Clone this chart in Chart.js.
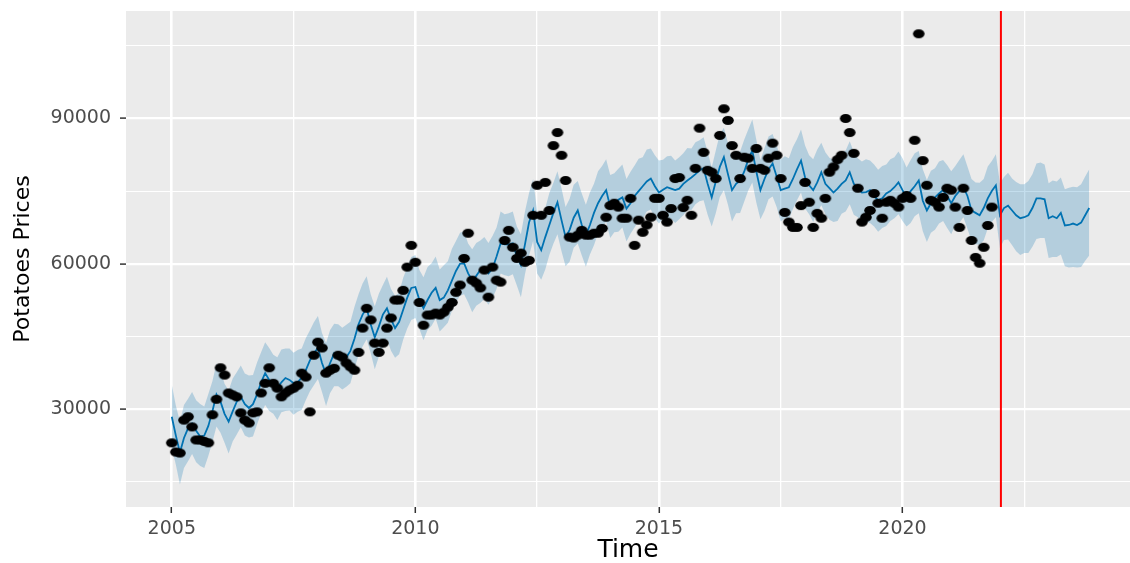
<!DOCTYPE html>
<html>
<head>
<meta charset="utf-8">
<script src="https://cdn.jsdelivr.net/npm/chart.js@4/dist/chart.umd.min.js"></script>
<style>
  html, body { margin: 0; padding: 0; background: #ffffff; }
  #wrap { width: 1130px; height: 563px; }
</style>
</head>
<body>
<div id="wrap"><canvas id="forecastChart" width="1130" height="563"></canvas></div>
<script>
// monthly series, first point = Jan 2005
const startYear = 2005;
const cutoffYear = 2022.02;

const xMajor = [2005, 2010, 2015, 2020];
const xMinor = [2007.5, 2012.5, 2017.5, 2022.5];
const yMajor = [30000, 60000, 90000];
const yMinor = [15000, 45000, 75000, 105000];

// observed prices (Jan 2005 - Nov 2021)
const observed = [
    23000, 21100, 20900, 27700, 28400, 26300, 23600, 23600, 23300, 23000, 28800, 32000,
    38500, 37000, 33300, 32900, 32500, 29200, 27700, 27100, 29200, 29400, 33300, 35300,
    38500, 35300, 34300, 32500, 33300, 33900, 34300, 34900, 37400, 36600, 29400, 41100,
    43800, 42600, 37400, 38000, 38400, 41100, 40700, 39500, 38700, 38000, 41700, 46700,
    50800, 48400, 43600, 41700, 43600, 46700, 48800, 52500, 52500, 54500, 59300, 63800,
    60300, 52000, 47300, 49400, 49400, 49800, 49400, 50000, 51000, 52000, 54100, 55600,
    61100, 66300, 56600, 56000, 55000, 58700, 53100, 59300, 56600, 56200, 64800, 66900,
    63400, 61100, 62200, 60300, 60700, 70000, 76200, 70000, 76800, 71000, 84400, 87100,
    82400, 77200, 65500, 65300, 65900, 66900, 65900, 65900, 66300, 66300, 67300, 69600,
    72000, 72500, 71700, 69400, 69400, 73500, 63800, 69000, 66500, 68000, 69600, 73500,
    73500, 70000, 68600, 71400, 77600, 77800, 71600, 73100, 70000, 79700, 88000, 83000,
    79300, 78900, 77600, 86500, 92000, 89600, 84400, 82400, 77600, 82000, 81800, 79700,
    83800, 79700, 79300, 81800, 84900, 82400, 77600, 70600, 68600, 67500, 67500, 72000,
    76800, 72700, 67500, 70400, 69400, 73500, 78900, 80000, 81500, 82400, 90000, 87100,
    82800, 75600, 68600, 69600, 71000, 74500, 72500, 69400, 72700, 73100, 72500, 71700,
    73500, 74100, 73500, 85500, 107500, 81300, 76200, 73100, 72700, 71700, 73700, 75600,
    75200, 71700, 67500, 75600, 71000, 64800, 61300, 60100, 63400, 67900, 71700
];

// fitted / forecast values (Jan 2005 - Nov 2023)
const yhat = [
    28400, 24500, 21000, 24000, 26000, 27000, 25500, 24300, 24500, 26500, 29500, 33000,
    31500, 29000, 27400, 29500, 31500, 32500, 31000, 30200, 31000, 33000, 35500, 37400,
    36000, 35000, 34300, 35500, 36400, 36000, 35300, 35500, 36500, 38000, 40000, 41500,
    42600, 39500, 37200, 39500, 41500, 41000, 40500, 40700, 42000, 44500, 47500, 49500,
    50800, 47500, 44800, 47000, 49500, 50800, 48500, 46700, 48000, 50500, 53000, 55000,
    55200, 52500, 50800, 52500, 54000, 55000, 52500, 53000, 54500, 56500, 58500, 60000,
    60100, 58000, 56600, 57500, 58700, 59000, 58000, 59000, 61500, 64200, 64000, 64000,
    64200, 61500, 59700, 64000, 68500, 71000, 64500, 62800, 65500, 68000, 70500, 72700,
    69000, 65500, 67000, 69500, 71000, 68000, 65900, 68000, 70500, 72500, 74000, 75200,
    71700, 72500, 73200, 73700, 71400, 72500, 74000, 75000, 76000, 77000, 77600, 76000,
    74700, 75300, 75800, 75500, 75200, 75500, 76500, 77200, 77800, 78500, 79300, 79700,
    76500, 73700, 77000, 80000, 82000, 78500, 75200, 76500, 77200, 79000, 81500, 83400,
    79000, 75200, 77500, 79500, 80700, 78000, 75200, 75500, 75800, 77500, 79500, 81300,
    77800, 76200, 75200, 76800, 78900, 76500, 75600, 74700, 75500, 76500, 77200, 78900,
    76500, 75600, 74700, 74800, 75200, 74000, 73100, 73500, 74500, 75000, 75800, 76800,
    75200, 73700, 75000, 76000, 77200, 73000, 71000, 72500, 73700, 74500, 75200, 74000,
    72500, 74000, 75000, 75800, 74000, 71000, 70500, 70000, 71500, 73500, 75000, 76200,
    70000, 71500, 72000, 71000, 70000, 69400, 69600, 70000, 71500, 73500, 73500, 73300,
    69400, 69800, 69400, 70500, 67900, 68000, 68300, 68000, 68500, 70000, 71500
];

const yhatLower = [
    22000, 18500, 14400, 17800, 19200, 20700, 19000, 18200, 17800, 20300, 23100, 26400,
    25100, 23000, 20800, 23300, 24700, 26200, 24500, 24100, 24300, 26800, 29100, 30800,
    29600, 29000, 27700, 29300, 29600, 29700, 28800, 29400, 29800, 31800, 33600, 34900,
    36200, 33500, 30600, 33300, 34700, 34700, 34000, 34600, 35300, 38300, 41100, 42900,
    44400, 41500, 38200, 40800, 42700, 44500, 42000, 40600, 41300, 44300, 46600, 48400,
    48800, 46500, 44200, 46300, 47200, 48700, 46000, 46900, 47800, 50300, 52100, 53400,
    53700, 52000, 50000, 51300, 51900, 52700, 51500, 52900, 54800, 58000, 57600, 57400,
    57800, 55500, 53100, 57800, 61700, 64700, 58000, 56700, 58800, 61800, 64100, 66100,
    62600, 59500, 60400, 63300, 64200, 61700, 59400, 61900, 63800, 66300, 67600, 68600,
    65300, 66500, 66600, 67500, 64600, 66200, 67500, 68900, 69300, 70800, 71200, 69400,
    68300, 69300, 69200, 69300, 68400, 69200, 70000, 71100, 71100, 72300, 72900, 73100,
    70100, 67700, 70400, 73800, 75200, 72200, 68700, 70400, 70500, 72800, 75100, 76800,
    72600, 69200, 70900, 73300, 73900, 71700, 68700, 69400, 69100, 71300, 73100, 74700,
    71400, 70200, 68600, 70600, 72100, 70200, 69100, 68600, 68800, 70300, 70800, 72300,
    70100, 69600, 68100, 68600, 68400, 67700, 66600, 67400, 67800, 68800, 69400, 70200,
    68800, 67700, 68400, 69800, 70400, 66700, 64500, 66400, 67000, 68300, 68800, 67400,
    66100, 68000, 68400, 69600, 67200, 64700, 64000, 63900, 64800, 67300, 68600, 69600,
    63200, 64900, 65000, 63800, 62600, 61800, 62200, 62200, 63500, 65100, 65300, 65300,
    61200, 61400, 61400, 61900, 59500, 59200, 59300, 59200, 59300, 60600, 61700
];

const yhatUpper = [
    35000, 30700, 27400, 30800, 32100, 33500, 31800, 31000, 30500, 33100, 35700, 39400,
    38100, 35200, 33800, 36300, 37600, 39000, 37300, 36900, 37000, 39600, 41700, 43800,
    42600, 41200, 40700, 42300, 42500, 42500, 41600, 42200, 42500, 44600, 46200, 47900,
    49200, 45700, 43600, 46300, 47600, 47500, 46800, 47400, 48000, 51100, 53700, 55900,
    57400, 53700, 51200, 53800, 55600, 57300, 54800, 53400, 54000, 57100, 59200, 61400,
    61800, 58700, 57200, 59300, 60100, 61500, 58800, 59700, 60500, 63100, 64700, 66400,
    66700, 64200, 63000, 64300, 64800, 65500, 64300, 65700, 67500, 70800, 70200, 70400,
    70800, 67700, 66100, 70800, 74600, 77500, 70800, 69500, 71500, 74600, 76700, 79100,
    75600, 71700, 73400, 76300, 77100, 74500, 72200, 74700, 76500, 79100, 80200, 81600,
    78300, 78700, 79600, 80500, 77500, 79000, 80300, 81700, 82000, 83600, 83800, 82400,
    81300, 81500, 82200, 82300, 81300, 82000, 82800, 83900, 83800, 85100, 85500, 86100,
    83100, 79900, 83400, 86800, 88100, 85000, 81500, 83200, 83200, 85600, 87700, 89800,
    85600, 81400, 83900, 86300, 86800, 84500, 81500, 82200, 81800, 84100, 85700, 87700,
    84400, 82400, 81600, 83600, 85000, 83000, 81900, 81400, 81500, 83100, 83400, 85300,
    83100, 81800, 81100, 81600, 81300, 80500, 79400, 80200, 80500, 81600, 82000, 83200,
    81800, 79900, 81400, 82800, 83300, 79500, 77300, 79200, 79700, 81100, 81400, 80400,
    79100, 80200, 81400, 82600, 80100, 77500, 76800, 76700, 77500, 80100, 81200, 82600,
    76600, 77900, 78800, 77600, 76900, 76400, 76400, 77100, 78500, 80700, 80900, 80500,
    76600, 77200, 77000, 77800, 75400, 75700, 75900, 75800, 76400, 78000, 79500
];

const xRange = [2004.06, 2024.67];
const yRange = [9750, 112200];

const toPoints = values => values.map((v, i) => ({ x: startYear + i / 12, y: v }));

// ggplot-ish black dots, slightly wide
function makeDot() {
    const c = document.createElement('canvas');
    c.width = 14;
    c.height = 11;
    const g = c.getContext('2d');
    g.fillStyle = '#000000';
    g.beginPath();
    g.ellipse(7, 5.5, 5.8, 4.6, 0, 0, Math.PI * 2);
    g.fill();
    return c;
}

const panelBg = {
    id: 'panelBg',
    beforeDraw(chart) {
        const { ctx, chartArea: a } = chart;
        ctx.save();
        ctx.fillStyle = '#EBEBEB';
        ctx.fillRect(a.left, a.top, a.right - a.left, a.bottom - a.top);
        ctx.restore();
    }
};

const isMajor = (list, v) => list.some(m => Math.abs(m - v) < 1e-6);

function gridFor(major, widthMajor, widthMinor) {
    return {
        color: '#FFFFFF',
        lineWidth: ctx => isMajor(major, ctx.tick.value) ? widthMajor : widthMinor,
        tickColor: ctx => isMajor(major, ctx.tick.value) ? '#333333' : 'rgba(0,0,0,0)',
        tickLength: 6,
        tickWidth: 1.5,
        drawTicks: true
    };
}

function noPadding(scale) {
    scale.paddingTop = 0;
    scale.paddingBottom = 0;
    scale.paddingLeft = 0;
    scale.paddingRight = 0;
}

const tickFont = { family: 'DejaVu Sans', size: 19 };

new Chart(document.getElementById('forecastChart').getContext('2d'), {
    type: 'line',
    data: {
        datasets: [
            {
                label: 'upper',
                data: toPoints(yhatUpper),
                borderWidth: 0,
                pointRadius: 0,
                backgroundColor: 'rgba(0, 114, 178, 0.23)',
                fill: '+1',
                order: 3
            },
            {
                label: 'lower',
                data: toPoints(yhatLower),
                borderWidth: 0,
                pointRadius: 0,
                fill: false,
                order: 3
            },
            {
                label: 'yhat',
                data: toPoints(yhat),
                borderColor: '#0072B2',
                borderWidth: 1.8,
                pointRadius: 0,
                fill: false,
                order: 2
            },
            {
                label: 'observed',
                data: toPoints(observed),
                showLine: false,
                pointStyle: makeDot(),
                pointRadius: 6,
                order: 1
            },
            {
                label: 'cutoff',
                data: [{ x: cutoffYear, y: yRange[0] }, { x: cutoffYear, y: yRange[1] }],
                borderColor: '#FF0000',
                borderWidth: 2,
                pointRadius: 0,
                fill: false,
                order: 0
            }
        ]
    },
    options: {
        responsive: false,
        devicePixelRatio: 1,
        animation: false,
        layout: { autoPadding: false, padding: { top: 11, right: 0, bottom: 0, left: 0 } },
        plugins: {
            legend: { display: false },
            tooltip: { enabled: false }
        },
        scales: {
            x: {
                type: 'linear',
                min: xRange[0],
                max: xRange[1],
                afterBuildTicks: axis => {
                    axis.ticks = xMajor.concat(xMinor).sort((a, b) => a - b).map(v => ({ value: v }));
                },
                afterFit: scale => {
                    scale.height = 56;
                    noPadding(scale);
                },
                border: { display: false },
                grid: gridFor(xMajor, 2.6, 1.3),
                ticks: {
                    autoSkip: false,
                    maxRotation: 0,
                    padding: 5,
                    color: '#4D4D4D',
                    font: tickFont,
                    callback: v => isMajor(xMajor, v) ? String(v) : ''
                },
                title: {
                    display: true,
                    text: 'Time',
                    color: '#000000',
                    font: { family: 'DejaVu Sans', size: 25, lineHeight: 1.0 },
                    padding: { top: 0, bottom: 0 }
                }
            },
            y: {
                type: 'linear',
                min: yRange[0],
                max: yRange[1],
                afterBuildTicks: axis => {
                    axis.ticks = yMajor.concat(yMinor).sort((a, b) => a - b).map(v => ({ value: v }));
                },
                afterFit: scale => {
                    scale.width = 126;
                    noPadding(scale);
                },
                border: { display: false },
                grid: gridFor(yMajor, 2.2, 1.1),
                ticks: {
                    autoSkip: false,
                    padding: 9,
                    color: '#4D4D4D',
                    font: tickFont,
                    callback: v => isMajor(yMajor, v) ? String(v) : ''
                },
                title: {
                    display: true,
                    text: 'Potatoes Prices',
                    color: '#000000',
                    font: { family: 'DejaVu Sans', size: 22 },
                    padding: { top: 10, bottom: 0 }
                }
            }
        }
    },
    plugins: [panelBg]
});
</script>
</body>
</html>
